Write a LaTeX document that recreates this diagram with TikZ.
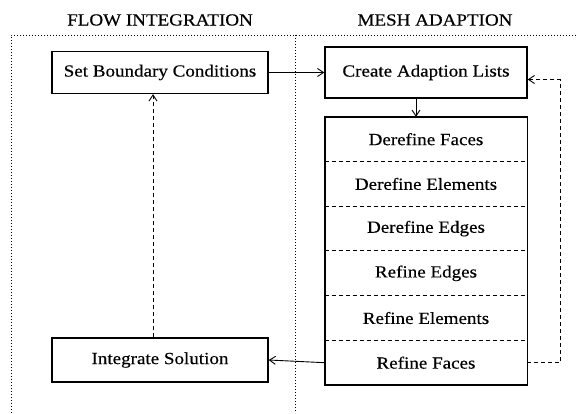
\documentclass[tikz,border=0pt]{standalone}
\usepackage{fontspec}
\setmainfont{Liberation Serif}[FakeStretch=1.12,FakeBold=0.4]
\usetikzlibrary{positioning,arrows.meta}

\begin{document}
\begin{tikzpicture}[
  x=1pt, y=-1pt,
  font=\fontsize{17}{20}\selectfont,
  box/.style={rectangle, draw, line width=1.4pt, minimum width=216pt,
    minimum height=42pt, inner sep=0pt, align=center},
  cell/.style={rectangle, minimum width=202pt, minimum height=44.3pt,
    inner sep=0pt, align=center},
  arrow/.style={-{Straight Barb[length=6pt,width=8pt]}, line width=0.9pt},
  back/.style={arrow, dash pattern=on 4pt off 3pt},
  frame/.style={line width=1pt, dash pattern=on 1pt off 2pt},
]
\useasboundingbox (0,0) rectangle (578,413);
% panel titles
\node (flowtitle) at (160,20) {FLOW INTEGRATION};
\node (meshtitle) at (435,20) {MESH ADAPTION};
\draw[frame] (11,413) -- (11,35) -- (578,35);
\draw[frame] (295,35) -- (295,413);
% flow integration side
\node[box] (setbc) at (160,72.5) {Set Boundary Conditions};
\node[box, minimum height=44pt] (integ) at (160,360) {Integrate Solution};
% mesh adaption side
\node[box, minimum width=202pt, minimum height=51pt] (create) at (426,72.5) {Create Adaption Lists};
\node[cell] (dfaces) at (426,139.2) {Derefine Faces};
\node[cell, below=0pt of dfaces] (delems) {Derefine Elements};
\node[cell, below=0pt of delems] (dedges) {Derefine Edges};
\node[cell, below=0pt of dedges] (redges) {Refine Edges};
\node[cell, below=0pt of redges] (relems) {Refine Elements};
\node[cell, below=0pt of relems] (rfaces) {Refine Faces};
\draw[line width=1.4pt] (dfaces.north west) rectangle (rfaces.south east);
\foreach \c in {dfaces,delems,dedges,redges,relems}
  \draw[dash pattern=on 4pt off 3pt, line width=1pt] (\c.south west) -- (\c.south east);
% connectors
\draw[arrow] (setbc.east) -- (create.west);
\draw[arrow] ([xshift=-10pt]create.south) -- ([xshift=-10pt]dfaces.north);
\draw[arrow] (rfaces.west) -- (integ.east);
\draw[back] ([xshift=-7pt]integ.north) -- ([xshift=-7pt]setbc.south);
\draw[back] (rfaces.east) -- ++(33,0) |- ([yshift=-7pt]create.east);
\end{tikzpicture}
\end{document}
